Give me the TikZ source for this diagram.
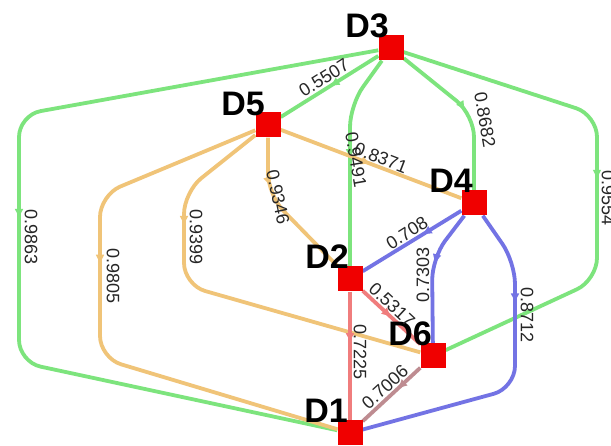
\documentclass[tikz,border=0pt]{standalone}
\usepackage{fontspec}
\setmainfont{Liberation Sans}
\usetikzlibrary{decorations.markings,arrows.meta}
\definecolor{eg}{RGB}{125,228,125}
\definecolor{eo}{RGB}{240,196,120}
\definecolor{eb}{RGB}{115,115,228}
\definecolor{er}{RGB}{240,125,125}
\definecolor{ebr}{RGB}{190,140,145}
\definecolor{sq}{RGB}{240,0,0}
\tikzset{
  sqnode/.style={fill=sq,minimum size=25pt,inner sep=0pt},
  nodelbl/.style={font=\fontsize{34}{34}\selectfont\bfseries,inner sep=0pt},
  edgelbl/.style={font=\fontsize{18}{18}\selectfont,inner sep=0pt,text=black!85},
  edge/.style={line width=3.8pt,rounded corners=22pt},
  midarr/.style={postaction={decorate,decoration={markings,mark=at position #1 with {\arrow{Latex[length=10pt,width=9pt]}}}}}
}
\begin{document}
\begin{tikzpicture}[x=1pt,y=-1pt]
\useasboundingbox[fill=white] (0,0) rectangle (611,446);
% squares (placed first for naming)
\node[sqnode] (D3) at (391,48) {};
\node[sqnode] (D5) at (268,125) {};
\node[sqnode] (D4) at (474,203) {};
\node[sqnode] (D2) at (350,279) {};
\node[sqnode] (D6) at (433,356) {};
\node[sqnode] (D1) at (350,433) {};
% green edges
\draw[edge,eg,midarr=0.5] (D3) -- (D5);
\draw[edge,eg,midarr=0.5] (D3) -- (19,115) -- (19,362) -- (D1);
\draw[edge,eg,midarr=0.5] (D3) -- (350,105) -- (D2);
\draw[edge,eg,midarr=0.5] (D3) -- (474,115) -- (D4);
\draw[edge,eg,midarr=0.5] (D3) -- (597,115) -- (597,280) -- (D6);
% orange edges
\draw[edge,eo,midarr=0.5] (D5) -- (D4);
\draw[edge,eo,midarr=0.32] (D5) -- (268,195) -- (D2);
\draw[edge,eo,midarr=0.29] (D5) -- (184,192) -- (184,285) -- (D6);
\draw[edge,eo,midarr=0.41] (D5) -- (100,195) -- (100,358) -- (D1);
% blue edges
\draw[edge,eb,midarr=0.4] (D4) -- (D2);
\draw[edge,eb,midarr=0.42] (D4) -- (432,258) -- (D6);
\draw[edge,eb,midarr=0.29] (D4) -- (515,262) -- (515,388) -- (D1);
% red edges
\draw[edge,er,midarr=0.5] (D2) -- (D6);
\draw[edge,er,midarr=0.4] (D2) -- (D1);
\draw[edge,ebr,midarr=0.4] (D6) -- (D1);
% redraw squares on top
\foreach \n/\p in {D3/{(391,48)},D5/{(268,125)},D4/{(474,203)},D2/{(350,279)},D6/{(433,356)},D1/{(350,433)}}
  \fill[sq] \p ++(-12.5,-12.5) rectangle ++(25,25);
% node labels
\node[nodelbl] (tD3) at (367,26) {D3};
\node[nodelbl] (tD5) at (243,104) {D5};
\node[nodelbl] (tD4) at (451,181) {D4};
\node[nodelbl] (tD2) at (327,257) {D2};
\node[nodelbl] (tD6) at (410,334) {D6};
\node[nodelbl] (tD1) at (326,411) {D1};
% edge labels
\node[edgelbl,rotate=32] (l1) at (324,78) {0.5507};
\node[edgelbl,rotate=-90] (l2) at (31,237) {0.9863};
\node[edgelbl,rotate=-80] (l3) at (356,160) {0.9491};
\node[edgelbl,rotate=-80] (l4) at (485,120) {0.8682};
\node[edgelbl,rotate=-90] (l5) at (608,198) {0.9554};
\node[edgelbl,rotate=-21] (l6) at (381,158) {0.8371};
\node[edgelbl,rotate=-78] (l7) at (278,197) {0.9346};
\node[edgelbl,rotate=-90] (l8) at (196,237) {0.9399};
\node[edgelbl,rotate=-90] (l9) at (113,276) {0.9805};
\node[edgelbl,rotate=32] (l10) at (407,233) {0.708};
\node[edgelbl,rotate=90] (l11) at (423,275) {0.7303};
\node[edgelbl,rotate=-90] (l12) at (527,315) {0.8712};
\node[edgelbl,rotate=-43] (l13) at (392,305) {0.5317};
\node[edgelbl,rotate=-90] (l14) at (360,352) {0.7225};
\node[edgelbl,rotate=42] (l15) at (385,387) {0.7006};
\end{tikzpicture}
\end{document}
